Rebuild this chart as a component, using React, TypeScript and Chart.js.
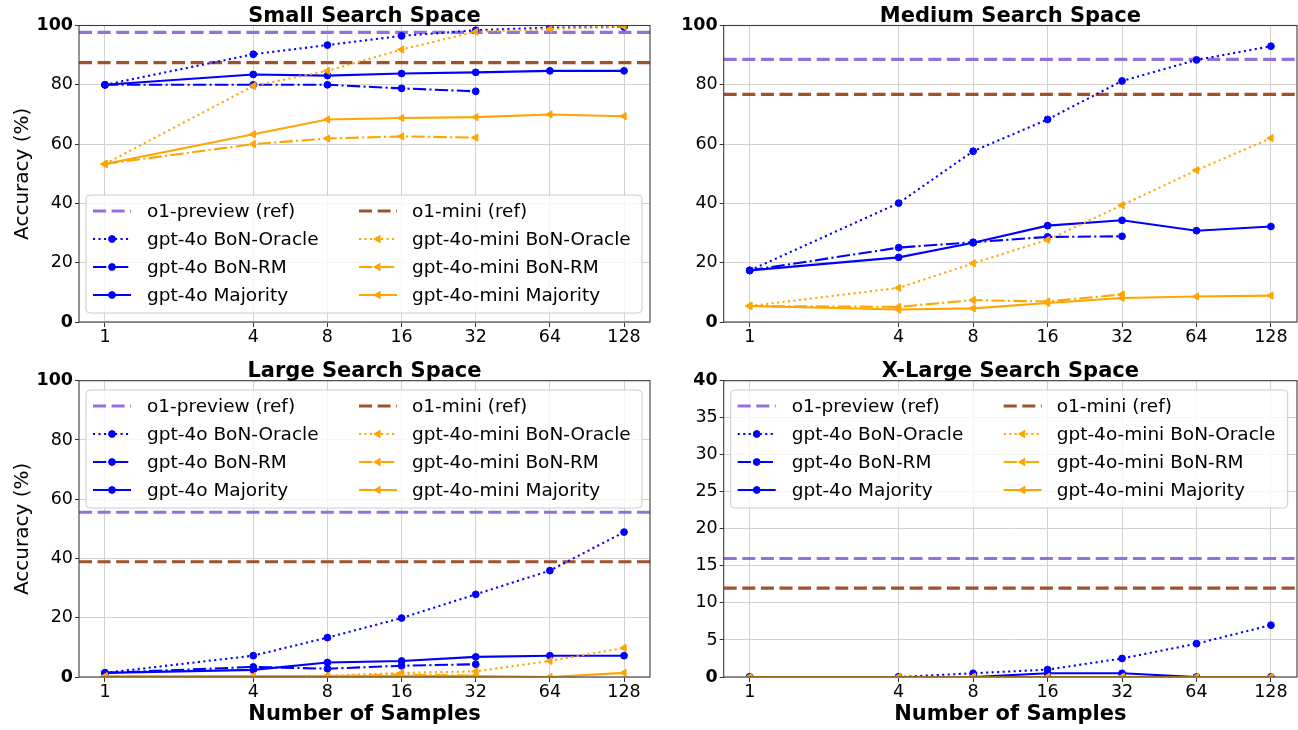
import React, { useEffect, useRef } from "react";
import { Chart, registerables } from "chart.js";

Chart.register(...registerables);

const FONT = "'DejaVu Sans', 'Liberation Sans', sans-serif";

// ---------------- data ----------------
const SAMPLES = [1, 4, 8, 16, 32, 64, 128];
const SAMPLES_RM = [1, 4, 8, 16, 32];
const X_TICKS = [1, 4, 8, 16, 32, 64, 128];

const REF_LABELS = ["o1-preview (ref)", "o1-mini (ref)"];
const SERIES_LABELS = [
  "gpt-4o BoN-Oracle",
  "gpt-4o BoN-RM",
  "gpt-4o Majority",
  "gpt-4o-mini BoN-Oracle",
  "gpt-4o-mini BoN-RM",
  "gpt-4o-mini Majority",
];

// Small search space
const smallRefs = [97.7, 87.5];
const small4oOracle = [80, 90.3, 93.4, 96.5, 98.4, 99.3, 99.5];
const small4oRM = [80, 80, 80, 78.8, 77.8];
const small4oMajority = [80, 83.5, 83.1, 83.8, 84.2, 84.7, 84.7];
const smallMiniOracle = [53.3, 79.6, 84.7, 91.9, 97.9, 98.8, 99.7];
const smallMiniRM = [53.3, 60.0, 61.9, 62.6, 62.2];
const smallMiniMajority = [53.3, 63.3, 68.3, 68.8, 69.1, 70.0, 69.4];

// Medium search space
const mediumRefs = [88.6, 76.8];
const medium4oOracle = [17.4, 40.1, 57.6, 68.3, 81.3, 88.4, 93.0];
const medium4oRM = [17.4, 25.1, 26.9, 28.7, 28.9];
const medium4oMajority = [17.4, 21.8, 26.7, 32.5, 34.3, 30.8, 32.2];
const mediumMiniOracle = [5.4, 11.5, 19.8, 27.7, 39.4, 51.2, 62.0];
const mediumMiniRM = [5.4, 5.1, 7.4, 6.9, 9.3];
const mediumMiniMajority = [5.4, 4.2, 4.6, 6.4, 8.1, 8.6, 8.9];

// Large search space
const largeRefs = [55.6, 38.9];
const large4oOracle = [1.4, 7.2, 13.3, 19.9, 27.9, 35.9, 48.9];
const large4oRM = [1.4, 3.4, 2.8, 3.8, 4.3];
const large4oMajority = [1.4, 2.4, 4.9, 5.4, 6.8, 7.2, 7.2];
const largeMiniOracle = [0.2, 0.3, 0.4, 1.4, 1.9, 5.4, 9.8];
const largeMiniRM = [0.2, 0.3, 0.3, 0.8, 0.5];
const largeMiniMajority = [0.2, 0.3, 0.3, 0.3, 0.3, 0.0, 1.4];

// X-Large search space
const xlargeRefs = [16.0, 12.0];
const xlarge4oOracle = [0, 0, 0.5, 1.0, 2.5, 4.5, 7.0];
const xlarge4oRM = [0, 0, 0, 0, 0];
const xlarge4oMajority = [0, 0, 0, 0.5, 0.5, 0, 0];
const xlargeMiniOracle = [0, 0, 0, 0, 0, 0, 0];
const xlargeMiniRM = [0, 0, 0, 0, 0];
const xlargeMiniMajority = [0, 0, 0, 0, 0, 0, 0];

// ---------------- styles ----------------
const BLUE = "#0000ff";
const ORANGE = "#ffa500";
const LW = 2.08;
const DOT = [2.1, 3.4];
const DASHDOT = [13.3, 3.3, 2.1, 3.3];
const SERIES_STYLE = [
  { color: BLUE, dash: DOT, marker: "circle" },
  { color: BLUE, dash: DASHDOT, marker: "circle" },
  { color: BLUE, dash: [] as number[], marker: "circle" },
  { color: ORANGE, dash: DOT, marker: "tri" },
  { color: ORANGE, dash: DASHDOT, marker: "tri" },
  { color: ORANGE, dash: [] as number[], marker: "tri" },
];
const REF_STYLE = [
  { color: "#9370db", dash: [13, 5.6] },
  { color: "#a0522d", dash: [13, 5.6] },
];
const REF_LW = 3.2;
const GRID = "#d2d2d2";
const X_MIN = Math.pow(2, -0.35);
const X_MAX = 128 * Math.pow(2, 0.35);

type PanelCfg = {
  title: string;
  refs: number[];
  series: number[][];
  yMax: number;
  yStep: number;
  legend: "top" | "bottom" | null;
  yTitle: boolean;
  xTitle: boolean;
  left: number;
  top: number;
  w: number;
  h: number;
  yAxisW: number;
  padTop: number;
  padRight: number;
  xAxisH: number;
  legendW: number;
};

const PANELS: PanelCfg[] = [
  {
    title: "Small Search Space",
    refs: smallRefs,
    series: [small4oOracle, small4oRM, small4oMajority, smallMiniOracle, smallMiniRM, smallMiniMajority],
    yMax: 100, yStep: 20, legend: "bottom", yTitle: true, xTitle: false,
    left: 0, top: 0, w: 660, h: 355, yAxisW: 79, padTop: 25.5, padRight: 10, xAxisH: 33, legendW: 556,
  },
  {
    title: "Medium Search Space",
    refs: mediumRefs,
    series: [medium4oOracle, medium4oRM, medium4oMajority, mediumMiniOracle, mediumMiniRM, mediumMiniMajority],
    yMax: 100, yStep: 20, legend: null, yTitle: false, xTitle: false,
    left: 660, top: 0, w: 638, h: 355, yAxisW: 63.7, padTop: 25.5, padRight: 1, xAxisH: 33, legendW: 557,
  },
  {
    title: "Large Search Space",
    refs: largeRefs,
    series: [large4oOracle, large4oRM, large4oMajority, largeMiniOracle, largeMiniRM, largeMiniMajority],
    yMax: 100, yStep: 20, legend: "top", yTitle: true, xTitle: true,
    left: 0, top: 355, w: 660, h: 375, yAxisW: 79, padTop: 25.7, padRight: 10, xAxisH: 53, legendW: 556,
  },
  {
    title: "X-Large Search Space",
    refs: xlargeRefs,
    series: [xlarge4oOracle, xlarge4oRM, xlarge4oMajority, xlargeMiniOracle, xlargeMiniRM, xlargeMiniMajority],
    yMax: 40, yStep: 5, legend: "top", yTitle: false, xTitle: true,
    left: 660, top: 355, w: 638, h: 375, yAxisW: 63.7, padTop: 25.7, padRight: 1, xAxisH: 53, legendW: 557,
  },
];

// ---------------- drawing helpers ----------------
function drawMarker(ctx: CanvasRenderingContext2D, x: number, y: number, kind: string, color: string) {
  ctx.save();
  ctx.setLineDash([]);
  ctx.fillStyle = color;
  ctx.strokeStyle = color;
  ctx.lineWidth = 1;
  ctx.beginPath();
  if (kind === "circle") {
    ctx.arc(x, y, 3.4, 0, Math.PI * 2);
  } else {
    const r = 4.2;
    ctx.moveTo(x - r, y);
    ctx.lineTo(x + r / 2, y - r * 0.866);
    ctx.lineTo(x + r / 2, y + r * 0.866);
    ctx.closePath();
  }
  ctx.fill();
  ctx.stroke();
  ctx.restore();
}

function drawHandle(
  ctx: CanvasRenderingContext2D,
  x0: number,
  y: number,
  color: string,
  width: number,
  dash: number[],
  marker: string | null
) {
  ctx.save();
  ctx.strokeStyle = color;
  ctx.lineWidth = width;
  ctx.lineCap = "butt";
  ctx.setLineDash(dash);
  ctx.beginPath();
  ctx.moveTo(x0, y);
  ctx.lineTo(x0 + 38, y);
  ctx.stroke();
  ctx.restore();
  if (marker) drawMarker(ctx, x0 + 19, y, marker, color);
}

function makeDecor(p: PanelCfg) {
  return {
    id: "mplDecor",
    beforeDatasetsDraw(chart: any) {
      const { ctx, chartArea: ca } = chart;
      const ys = chart.scales.y;
      ctx.save();
      ctx.beginPath();
      ctx.rect(ca.left, ca.top, ca.right - ca.left, ca.bottom - ca.top);
      ctx.clip();
      p.refs.forEach((v, i) => {
        const py = ys.getPixelForValue(v);
        ctx.strokeStyle = REF_STYLE[i].color;
        ctx.lineWidth = REF_LW;
        ctx.setLineDash(REF_STYLE[i].dash);
        ctx.lineCap = "butt";
        ctx.beginPath();
        ctx.moveTo(ca.left, py);
        ctx.lineTo(ca.right, py);
        ctx.stroke();
      });
      ctx.restore();
    },
    afterDraw(chart: any) {
      const { ctx, chartArea: ca } = chart;
      ctx.save();
      // frame
      ctx.strokeStyle = "#3c3c3c";
      ctx.lineWidth = 1.1;
      ctx.setLineDash([]);
      ctx.strokeRect(ca.left, ca.top, ca.right - ca.left, ca.bottom - ca.top);

      // legend
      if (p.legend) {
        const W = p.legendW;
        const H = 118;
        const lx = ca.left + 7;
        const ly = p.legend === "top" ? ca.top + 9.3 : ca.bottom - 9 - H;
        ctx.beginPath();
        (ctx as any).roundRect(lx, ly, W, H, 4);
        ctx.fillStyle = "rgba(255,255,255,0.8)";
        ctx.fill();
        ctx.strokeStyle = "#cccccc";
        ctx.lineWidth = 1;
        ctx.stroke();
        ctx.font = `18.5px ${FONT}`;
        ctx.fillStyle = "#000";
        ctx.textBaseline = "middle";
        ctx.textAlign = "left";
        const cols = [
          [
            { label: REF_LABELS[0], color: REF_STYLE[0].color, width: REF_LW, dash: REF_STYLE[0].dash, marker: null },
            ...[0, 1, 2].map((k) => ({ label: SERIES_LABELS[k], color: SERIES_STYLE[k].color, width: LW, dash: SERIES_STYLE[k].dash, marker: SERIES_STYLE[k].marker })),
          ],
          [
            { label: REF_LABELS[1], color: REF_STYLE[1].color, width: REF_LW, dash: REF_STYLE[1].dash, marker: null },
            ...[3, 4, 5].map((k) => ({ label: SERIES_LABELS[k], color: SERIES_STYLE[k].color, width: LW, dash: SERIES_STYLE[k].dash, marker: SERIES_STYLE[k].marker })),
          ],
        ];
        const colHandleX = [lx + 7, lx + 273];
        const colTextX = [lx + 61, lx + 326];
        cols.forEach((col, ci) => {
          col.forEach((it, ri) => {
            const y = ly + 16 + ri * 28;
            drawHandle(ctx, colHandleX[ci], y, it.color, it.width, it.dash, it.marker as any);
            ctx.fillStyle = "#000";
            ctx.fillText(it.label, colTextX[ci], y + 1);
          });
        });
      }

      // title
      ctx.fillStyle = "#000";
      ctx.textAlign = "center";
      ctx.textBaseline = "alphabetic";
      ctx.font = `bold 21px ${FONT}`;
      const cx = (ca.left + ca.right) / 2;
      ctx.fillText(p.title, cx, ca.top - 4);
      if (p.xTitle) {
        ctx.fillText("Number of Samples", cx, ca.bottom + 43);
      }
      if (p.yTitle) {
        ctx.save();
        ctx.translate(27.8, (ca.top + ca.bottom) / 2);
        ctx.rotate(-Math.PI / 2);
        ctx.font = `20px ${FONT}`;
        ctx.textAlign = "center";
        ctx.textBaseline = "alphabetic";
        ctx.fillText("Accuracy (%)", 0, 0);
        ctx.restore();
      }
      ctx.restore();
    },
  };
}

function Panel({ p }: { p: PanelCfg }) {
  const ref = useRef<HTMLCanvasElement>(null);
  useEffect(() => {
    const datasets = p.series.map((vals, i) => {
      const xs = i % 3 === 1 ? SAMPLES_RM : SAMPLES;
      const st = SERIES_STYLE[i];
      return {
        label: SERIES_LABELS[i],
        data: xs.map((x, k) => ({ x, y: vals[k] })),
        borderColor: st.color,
        backgroundColor: st.color,
        borderWidth: LW,
        borderDash: st.dash,
        borderCapStyle: "butt" as const,
        pointStyle: st.marker === "circle" ? "circle" : "triangle",
        pointRotation: st.marker === "circle" ? 0 : 270,
        pointRadius: st.marker === "circle" ? 3.4 : 4.2,
        pointBorderWidth: 1,
        pointBackgroundColor: st.color,
        pointBorderColor: st.color,
        tension: 0,
        fill: false,
        clip: 0,
        order: -i,
      };
    });
    const tickFont = { family: FONT, size: 17.5 };
    const chart = new Chart(ref.current as HTMLCanvasElement, {
      type: "line",
      data: { datasets: datasets as any },
      options: {
        responsive: false,
        animation: false,
        events: [],
        layout: {
          autoPadding: false,
          padding: { left: 0, right: p.padRight, top: p.padTop, bottom: 0 },
        } as any,
        plugins: {
          legend: { display: false },
          tooltip: { enabled: false },
          title: { display: false },
        },
        scales: {
          x: {
            type: "logarithmic",
            min: X_MIN,
            max: X_MAX,
            afterBuildTicks: (s: any) => {
              s.ticks = X_TICKS.map((v) => ({ value: v }));
            },
            afterFit: (s: any) => {
              s.height = p.xAxisH;
              s.paddingLeft = 0;
              s.paddingRight = 0;
            },
            ticks: {
              callback: (v: any) => String(v),
              font: tickFont,
              color: "#000",
              padding: 0,
              maxRotation: 0,
              minRotation: 0,
              autoSkip: false,
            },
            grid: { color: GRID, lineWidth: 1, tickLength: 5, tickColor: "#333", tickWidth: 1 },
            border: { display: false },
          } as any,
          y: {
            type: "linear",
            min: 0,
            max: p.yMax,
            afterFit: (s: any) => {
              s.width = p.yAxisW;
              s.paddingTop = 0;
              s.paddingBottom = 0;
            },
            ticks: {
              stepSize: p.yStep,
              color: "#000",
              padding: 2,
              font: (c: any) => ({
                family: FONT,
                size: 17.5,
                weight: c.tick && (c.tick.value === 0 || c.tick.value === p.yMax) ? "bold" : "normal",
              }),
            },
            grid: { color: GRID, lineWidth: 1, tickLength: 4, tickColor: "#333", tickWidth: 1 },
            border: { display: false },
          } as any,
        },
      },
      plugins: [makeDecor(p)],
    });
    return () => chart.destroy();
  }, [p]);
  return (
    <div style={{ position: "absolute", left: p.left, top: p.top, width: p.w, height: p.h }}>
      <canvas ref={ref} width={p.w} height={p.h} style={{ width: p.w, height: p.h, display: "block" }} />
    </div>
  );
}

export default function App() {
  return (
    <div style={{ position: "absolute", left: 0, top: 0, width: 1298, height: 730, background: "#fff" }}>
      {PANELS.map((p) => (
        <Panel key={p.title} p={p} />
      ))}
    </div>
  );
}
